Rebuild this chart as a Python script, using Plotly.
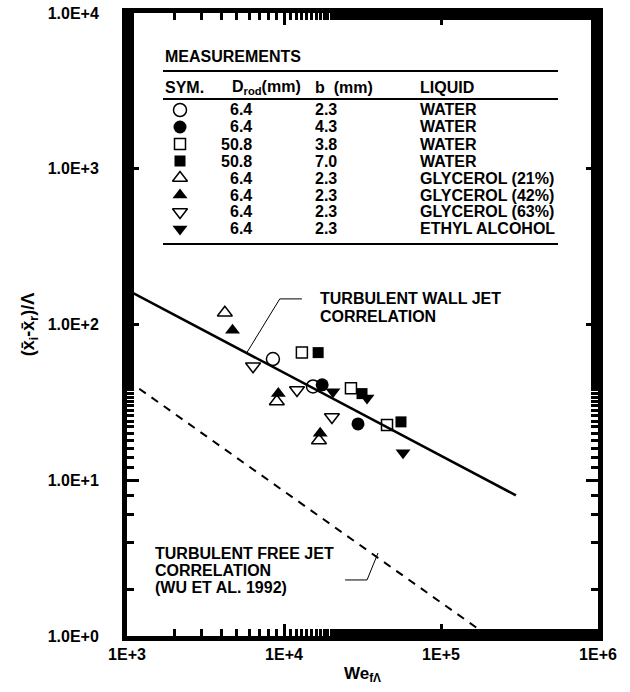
import plotly.graph_objects as go

# ---- axis ticks -------------------------------------------------------------
x_tick_vals = [1e3, 1e4, 1e5, 1e6]
x_tick_text = ["1E+3", "1E+4", "1E+5", "1E+6"]
y_tick_vals = [1, 10, 100, 1000, 10000]
y_tick_text = ["1.0E+0", "1.0E+1", "1.0E+2", "1.0E+3", "1.0E+4"]

# ---- measurements: We_fΛ and (x̄i - x̄r)/Λ ---------------------------------
water_a_we = [8500, 15300]
water_a_xr = [60, 40]
water_b_we = [17500, 29600]
water_b_xr = [41, 23]
water_c_we = [13000, 26700, 45300]
water_c_xr = [66, 39, 22.6]
water_d_we = [16500, 31400, 55600]
water_d_xr = [66, 36, 23.7]
gly21_we = [4200, 9000, 16700]
gly21_xr = [119, 32, 18]
gly42_we = [4700, 9200, 17000]
gly42_xr = [92, 36, 20]
gly63_we = [6350, 12100, 20200]
gly63_xr = [54, 38, 25.5]
ethyl_we = [20500, 33800, 57300]
ethyl_xr = [37, 33.7, 15]

# ---- table of measurement series -------------------------------------------
table_symbols = ["circle-open", "circle", "square-open", "square",
                 "triangle-up-open", "triangle-up", "triangle-down-open", "triangle-down"]
table_drod = ["6.4", "6.4", "50.8", "50.8", "6.4", "6.4", "6.4", "6.4"]
table_b = ["2.3", "4.3", "3.8", "7.0", "2.3", "2.3", "2.3", "2.3"]
table_liquid = ["WATER", "WATER", "WATER", "WATER", "GLYCEROL (21%)",
                "GLYCEROL (42%)", "GLYCEROL (63%)", "ETHYL ALCOHOL"]

series_we = [water_a_we, water_b_we, water_c_we, water_d_we,
             gly21_we, gly42_we, gly63_we, ethyl_we]
series_xr = [water_a_xr, water_b_xr, water_c_xr, water_d_xr,
             gly21_xr, gly42_xr, gly63_xr, ethyl_xr]

# ---- correlations -----------------------------------------------------------
wall_jet_we = [1e3, 3.0e5]
wall_jet_xr = [167, 8.0]
free_jet_we = [1e3, 2.0e5]
free_jet_xr = [44, 1.0]

# leader lines from the correlation labels
wall_leader_we = [5800, 9400, 13000]
wall_leader_xr = [66, 146, 146]
free_leader_we = [39700, 33800, 24500]
free_leader_xr = [3.41, 2.29, 2.29]

FONT = "Liberation Sans, Arial, Helvetica, sans-serif"
W, H = 630, 692
ML, MR, MT, MB = 127, 32, 13, 56
PW, PH = W - ML - MR, H - MT - MB
X_DEC = (3, 6)   # log10 range of We
Y_DEC = (0, 4)   # log10 range of (x̄i - x̄r)/Λ


def px_x(px):
    return (px - ML) / PW


def px_y(py):
    return (H - MB - py) / PH


def frac_to_we(f):
    return 10 ** (X_DEC[0] + (X_DEC[1] - X_DEC[0]) * f)


def frac_to_xr(f):
    return 10 ** (Y_DEC[0] + (Y_DEC[1] - Y_DEC[0]) * f)


fig = go.Figure()

marker_sizes = {"circle": 13, "square": 11, "triangle-up": 13, "triangle-down": 13}


def marker_for(sym):
    base = sym.replace("-open", "")
    return dict(symbol=sym, size=marker_sizes[base], color="black",
                line=dict(color="black", width=1.5 if sym.endswith("open") else 0))


for sym, we, xr in zip(table_symbols, series_we, series_xr):
    fig.add_trace(go.Scatter(x=we, y=xr, mode="markers", marker=marker_for(sym),
                             showlegend=False))

fig.add_trace(go.Scatter(x=wall_jet_we, y=wall_jet_xr, mode="lines",
                         line=dict(color="black", width=2.5), showlegend=False))
fig.add_trace(go.Scatter(x=free_jet_we, y=free_jet_xr, mode="lines",
                         line=dict(color="black", width=2, dash="8px,7px"), showlegend=False))
fig.add_trace(go.Scatter(x=wall_leader_we, y=wall_leader_xr, mode="lines",
                         line=dict(color="black", width=1), showlegend=False))
fig.add_trace(go.Scatter(x=free_leader_we, y=free_leader_xr, mode="lines",
                         line=dict(color="black", width=1), showlegend=False))

# ---- measurement table (on the top/right tick axes) -------------------------
row_y = [px_y(110 + 17 * i) for i in range(len(table_symbols))]
sym_x = px_x(180)
for sym, yy in zip(table_symbols, row_y):
    fig.add_trace(go.Scatter(x=[frac_to_we(sym_x)], y=[frac_to_xr(yy)],
                             xaxis="x2", yaxis="y2", mode="markers",
                             marker=marker_for(sym), showlegend=False))

TSIZE = 16
tfont = dict(family=FONT, size=TSIZE, color="black", weight="bold")
ann = []


def text(x, y, s, anchor="left"):
    ann.append(dict(x=x, y=y, xref="paper", yref="paper", text=s, showarrow=False,
                    xanchor=anchor, yanchor="middle", font=tfont))


text(px_x(163), px_y(56), "MEASUREMENTS")
text(px_x(163), px_y(87), "SYM.")
text(px_x(230), px_y(87), "D<sub>rod</sub>(mm)")
text(px_x(313), px_y(87), "b  (mm)")
text(px_x(418), px_y(87), "LIQUID")
for yy, d, b, liq in zip(row_y, table_drod, table_b, table_liquid):
    text(px_x(254), yy, d, anchor="right")
    text(px_x(326), yy, b, anchor="center")
    text(px_x(418), yy, liq)

for line, py in zip(["TURBULENT WALL JET", "CORRELATION"], [298, 316]):
    text(px_x(318), px_y(py), line)
for line, py in zip(["TURBULENT FREE JET", "CORRELATION", "(WU ET AL. 1992)"], [553, 570, 587]):
    text(px_x(153), px_y(py), line)

shapes = []
for py in (71, 99, 244):
    shapes.append(dict(type="line", xref="paper", yref="paper",
                       x0=px_x(163), x1=px_x(558), y0=px_y(py), y1=px_y(py),
                       line=dict(color="black", width=2)))

axfont = dict(family=FONT, size=16, color="black", weight="bold")
minor_ticks = dict(ticks="inside", ticklen=7, tickwidth=2.5, tickcolor="black",
                   showgrid=False)
tick_style = dict(type="log", automargin=False, ticks="inside", ticklen=12,
                  tickwidth=3, tickcolor="black", showgrid=False, zeroline=False,
                  tickmode="array", minor=minor_ticks)

fig.update_layout(
    width=W, height=H,
    margin=dict(l=ML, r=MR, t=MT, b=MB, autoexpand=False),
    paper_bgcolor="white", plot_bgcolor="white",
    showlegend=False,
    # bottom / left: frame, ticks and labels
    xaxis=dict(tick_style, range=list(X_DEC), tickvals=x_tick_vals, ticktext=x_tick_text,
               showline=True, linewidth=5, linecolor="black", mirror=True,
               tickfont=axfont,
               title=dict(text="We<sub>fΛ</sub>", standoff=6,
                          font=dict(family=FONT, size=17, color="black", weight="bold"))),
    yaxis=dict(tick_style, range=list(Y_DEC), tickvals=y_tick_vals, ticktext=y_tick_text,
               showline=True, linewidth=5, linecolor="black", mirror=True,
               tickfont=axfont, ticklabelstandoff=20,
               title=dict(text="(x\u0304<sub>i</sub>-x\u0304<sub>r</sub>)/\u039b", standoff=10,
                          font=dict(family=FONT, size=18, color="black", weight="bold"))),
    # top / right: tick marks only
    xaxis2=dict(tick_style, range=list(X_DEC), tickvals=x_tick_vals, showline=False,
                showticklabels=False, overlaying="x", side="top", anchor="y2"),
    yaxis2=dict(tick_style, range=list(Y_DEC), tickvals=y_tick_vals, showline=False,
                showticklabels=False, overlaying="y", side="right", anchor="x2"),
    annotations=ann,
    shapes=shapes,
)

fig.write_html("out.html")
